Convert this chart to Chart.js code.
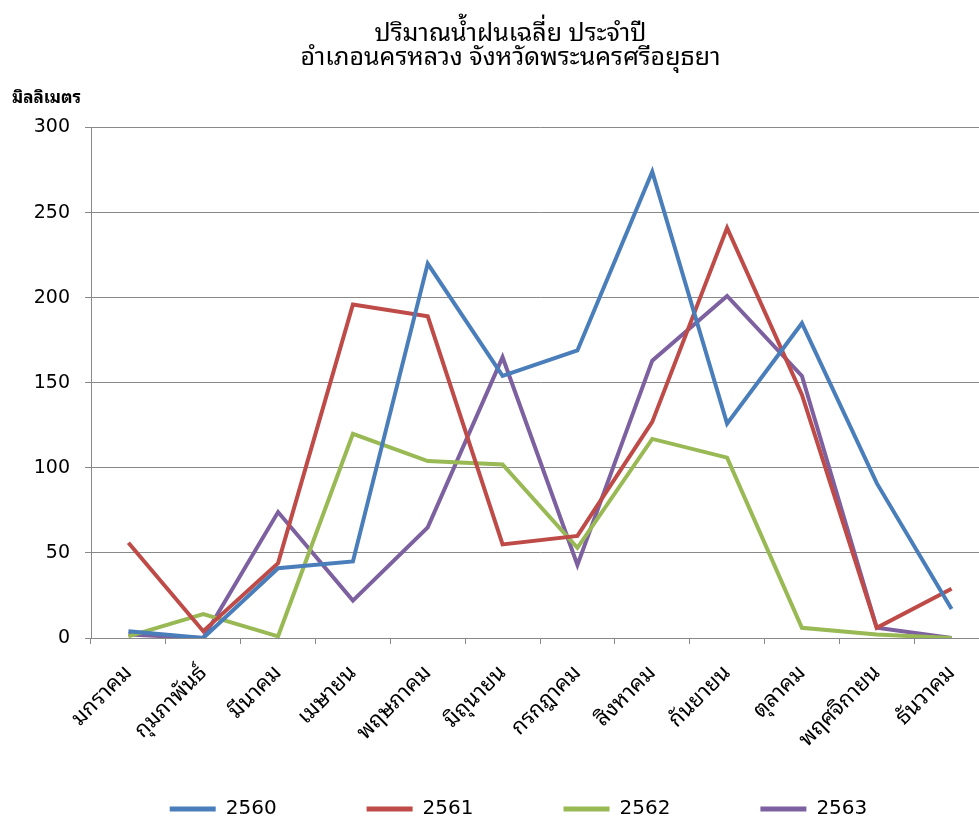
<!DOCTYPE html>
<html>
<head>
<meta charset="utf-8">
<script src="https://cdn.jsdelivr.net/npm/chart.js@4"></script>
<style>
  html, body { margin:0; padding:0; background:#fff; overflow:hidden; }
  #box { width:989px; height:819px; }
</style>
</head>
<body>
<div id="box"><canvas id="rain"></canvas></div>
<script>
    // ข้อมูลปริมาณน้ำฝน (มม.)
    var months = ['มกราคม','กุมภาพันธ์','มีนาคม','เมษายน','พฤษภาคม','มิถุนายน','กรกฎาคม','สิงหาคม','กันยายน','ตุลาคม','พฤศจิกายน','ธันวาคม'];
    var years = ['2560','2561','2562','2563'];
    var rain2560 = [4, 0, 41, 45, 220, 154, 169, 274, 126, 185, 91, 17];
    var rain2561 = [56, 4, 44, 196, 189, 55, 60, 127, 241, 143, 6, 29];
    var rain2562 = [1, 14, 1, 120, 104, 102, 53, 117, 106, 6, 2, 0];
    var rain2563 = [2, 0, 74, 22, 65, 165, 43, 163, 201, 154, 6, 0];
    var yTicks = [0, 50, 100, 150, 200, 250, 300];
    var titleLines = ['ปริมาณน้ำฝนเฉลี่ย ประจำปี', 'อำเภอนครหลวง จังหวัดพระนครศรีอยุธยา'];
    var unitLabel = 'มิลลิเมตร';

    var colors = ['#4a7ebb', '#be4b48', '#98b954', '#7d60a0'];
    var thaiFont = "'Noto Sans Thai Looped', 'Noto Sans Thai', Tahoma, 'DejaVu Sans', sans-serif";
    var numFont = "'DejaVu Sans', sans-serif";
    var series = [rain2560, rain2561, rain2562, rain2563];

    var sets = [];
    for (var i = 0; i < years.length; i++) {
        sets.push({
            label: years[i],
            data: series[i],
            borderColor: colors[i],
            backgroundColor: colors[i],
            borderWidth: 4,
            pointRadius: 0,
            tension: 0
        });
    }

    // ป้ายหน่วยด้านบนแกน y + เลื่อนหัวเรื่อง/คำอธิบาย
    var unitPlugin = {
        id: 'unit',
        afterLayout: function(chart) {
            chart.titleBlock.left += 16; chart.titleBlock.right += 16;
            chart.legend.left += 24; chart.legend.right += 24;
            // ให้ป้ายเดือนยาวลงไปได้ ไม่ถูกตัด
            chart.scales.x.bottom = chart.scales.x.top + 140;
        },
        afterDraw: function(chart) {
            var ctx = chart.ctx;
            ctx.save();
            ctx.fillStyle = '#000';
            ctx.font = 'bold 17px ' + thaiFont;
            ctx.textAlign = 'left';
            ctx.textBaseline = 'middle';
            ctx.fillText(unitLabel, 12, 98);
            ctx.restore();
        }
    };

    new Chart(document.getElementById('rain'), {
        type: 'line',
        data: { labels: months, datasets: sets },
        plugins: [unitPlugin],
        options: {
            responsive: true,
            maintainAspectRatio: false,
            animation: false,
            layout: { padding: { left: 0, right: 0, top: 22, bottom: -10 } },
            plugins: {
                title: {
                    display: true,
                    text: titleLines,
                    color: '#000',
                    font: { family: thaiFont, size: 25, weight: 'normal', lineHeight: 0.95 },
                    padding: { top: 0, bottom: 58 }
                },
                legend: {
                    position: 'bottom',
                    labels: {
                        color: '#000',
                        font: { family: numFont, size: 20 },
                        boxWidth: 46,
                        boxHeight: 5,
                        padding: 90,
                        generateLabels: function(chart) {
                            var items = Chart.defaults.plugins.legend.labels.generateLabels(chart);
                            items.forEach(function(it) { it.lineWidth = 0; it.fillStyle = it.strokeStyle; });
                            return items;
                        }
                    }
                },
                tooltip: { enabled: false }
            },
            scales: {
                x: {
                    offset: true,
                    grid: { display: true, drawOnChartArea: false, drawTicks: true, offset: true, tickLength: 6, color: '#888' },
                    border: { color: '#888' },
                    ticks: {
                        color: '#000',
                        font: { family: thaiFont, size: 22 },
                        minRotation: 45,
                        maxRotation: 45,
                        autoSkip: false,
                        padding: 16
                    },
                    afterFit: function(scale) { scale.height = 71; }
                },
                y: {
                    min: 0,
                    max: 300,
                    afterBuildTicks: function(scale) {
                        scale.ticks = yTicks.map(function(v) { return { value: v }; });
                    },
                    afterFit: function(scale) { scale.width = 91; },
                    grid: { color: '#888', tickLength: 6, lineWidth: 1 },
                    border: { color: '#888' },
                    ticks: {
                        color: '#000',
                        font: { family: numFont, size: 19 },
                        padding: 15
                    }
                }
            }
        }
    });
</script>
</body>
</html>
